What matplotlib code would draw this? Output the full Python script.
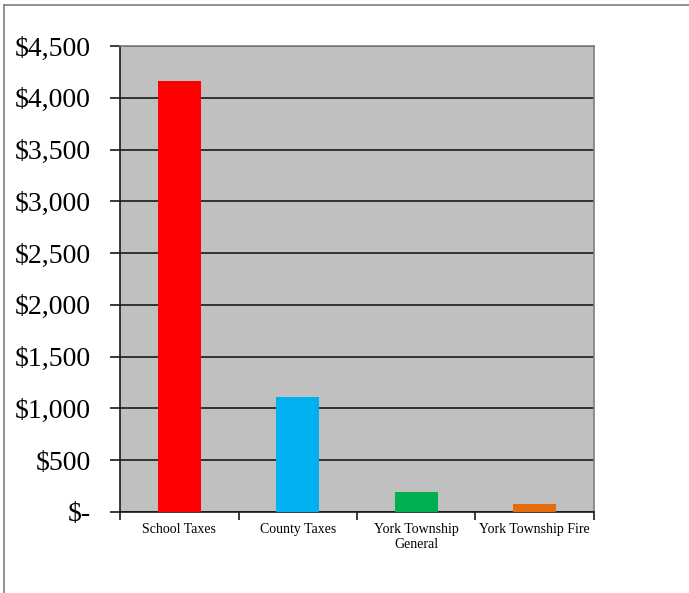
import matplotlib.pyplot as plt
from matplotlib.lines import Line2D

categories = ['School Taxes', 'County Taxes', 'York Township\nGeneral', 'York Township Fire']
amounts = [4165, 1110, 190, 74]
bar_colors = ['#FF0000', '#00B0F0', '#00B050', '#E46C0A']
ytick_vals = [0, 500, 1000, 1500, 2000, 2500, 3000, 3500, 4000, 4500]
ytick_labels = ['$-', '$500', '$1,000', '$1,500', '$2,000', '$2,500',
                '$3,000', '$3,500', '$4,000', '$4,500']

plt.rcParams['font.family'] = ['Liberation Serif', 'DejaVu Serif']

fig = plt.figure(figsize=(6.89, 5.93), dpi=100)
ax = fig.add_axes([0.1742, 0.1366, 0.8621 - 0.1742, 0.9224 - 0.1366])
ax.set_facecolor('#C0C0C0')

x = list(range(len(categories)))
ax.bar(x, amounts, width=0.36, color=bar_colors, zorder=3)

ax.set_xlim(-0.5, len(categories) - 0.5)
ax.set_ylim(0, 4500)
ax.set_yticks(ytick_vals)
ax.set_yticklabels(ytick_labels, fontsize=20)
ax.yaxis.grid(True, color='#1a1a1a', linewidth=1.2, zorder=1)
ax.set_axisbelow(True)

# category labels centred, tick marks on the boundaries
ax.set_xticks(x)
ax.set_xticklabels(categories, fontsize=10, linespacing=1.15)
ax.tick_params(axis='x', which='major', length=0, pad=8)
ax.set_xticks([i - 0.5 for i in range(len(categories) + 1)], minor=True)
ax.tick_params(axis='x', which='minor', length=6, width=1.2, direction='out', color='#1a1a1a')
ax.tick_params(axis='y', length=7, width=1.2, direction='out', color='#1a1a1a', pad=14)

for side in ['left', 'bottom']:
    ax.spines[side].set_color('#1a1a1a')
    ax.spines[side].set_linewidth(1.2)
for side in ['top', 'right']:
    ax.spines[side].set_color('#7f7f7f')
    ax.spines[side].set_linewidth(1.2)

# outer frame lines of the slide
fig.add_artist(Line2D([4 / 689, 4 / 689], [0, 1 - 5 / 593], color='#7f7f7f', linewidth=1.2))
fig.add_artist(Line2D([4 / 689, 1], [1 - 5 / 593, 1 - 5 / 593], color='#7f7f7f', linewidth=1.2))

fig.savefig('out.png', dpi=100)
